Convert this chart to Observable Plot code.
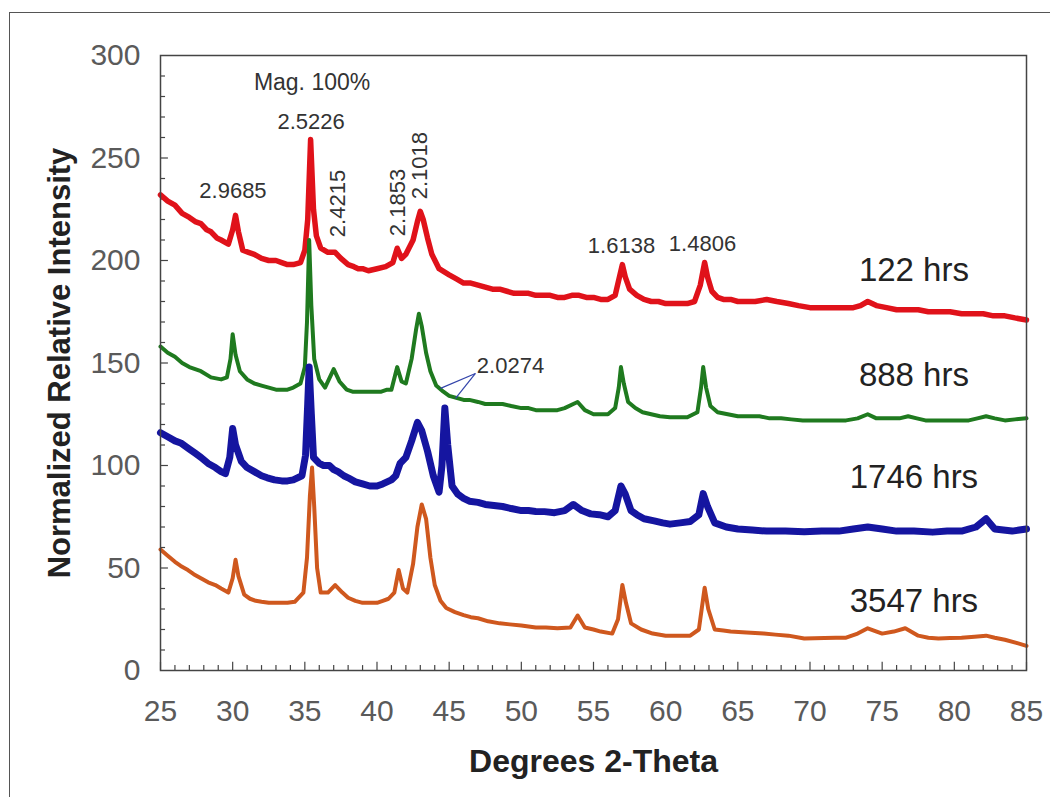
<!DOCTYPE html>
<html><head><meta charset="utf-8">
<script src="https://cdn.jsdelivr.net/npm/d3@7"></script>
<script src="https://cdn.jsdelivr.net/npm/@observablehq/plot@0.6"></script>
<style>
body{margin:0;background:#fff;}
#wrap{position:relative;width:1050px;height:797px;overflow:hidden;background:#fff;}
#border{position:absolute;left:9px;top:12px;width:1200px;height:900px;border-left:1.5px solid #555;border-top:1.5px solid #555;pointer-events:none;}
</style></head><body>
<div id="wrap"><div id="chart"></div><div id="border"></div></div>
<script>
// ---- data ----
const xTickLabels = [25, 30, 35, 40, 45, 50, 55, 60, 65, 70, 75, 80, 85];
const yTickLabels = [0, 50, 100, 150, 200, 250, 300];

const hrs122 = [[25,232],[25.5,229],[26,227],[26.5,223],[27,221],[27.4,219],[27.8,218],[28.2,215],[28.5,214],[28.9,211],[29.2,210],[29.7,208],[30.0,215],[30.2,222],[30.4,214],[30.7,205],[31.1,204],[31.5,203],[32.0,201],[32.5,200],[33.0,200],[33.4,199],[33.8,198],[34.2,198],[34.7,199],[35.0,205],[35.2,220],[35.4,259],[35.6,225],[35.8,212],[36.1,206],[36.6,204],[37.1,204],[37.5,201],[38.0,198],[38.4,197],[38.7,196],[39.0,196],[39.4,195],[40.0,196],[40.6,197],[41.1,199],[41.4,206],[41.7,201],[42.0,203],[42.5,210],[42.8,219],[43.0,224],[43.2,220],[43.5,211],[43.8,203],[44.3,196],[45.0,193],[45.5,191],[46.0,189],[46.5,189],[47.0,188],[47.5,187],[48.0,186],[48.5,186],[49.0,185],[49.5,184],[50.0,184],[50.5,184],[51.0,183],[51.5,183],[52.0,183],[52.5,182],[53.0,182],[53.5,183],[54.0,183],[54.5,182],[55.0,182],[55.5,181],[56.0,181],[56.5,183],[56.8,192],[57.0,198],[57.2,192],[57.5,186],[58.0,183],[58.5,181],[59.0,180],[59.5,180],[60.0,179],[60.5,179],[61.0,179],[61.5,179],[62.0,180],[62.4,188],[62.7,199],[62.9,192],[63.2,185],[63.6,182],[64.0,181],[64.5,181],[65.0,180],[65.5,180],[66.2,180],[67.0,181],[67.7,180],[68.5,179],[69.2,178],[70.0,177],[70.7,177],[71.5,177],[72.2,177],[73.0,177],[73.5,178],[74.0,180],[74.6,178],[75.3,177],[76.0,176],[76.7,176],[77.5,176],[78.2,175],[79.0,175],[79.7,175],[80.5,174],[81.2,174],[82.0,174],[82.7,173],[83.5,173],[84.2,172],[85.0,171]];

const hrs888 = [[25,158],[25.5,155],[26,153],[26.5,150],[27,148],[27.8,146],[28.5,143],[29.2,142],[29.6,143],[29.85,152],[30.0,164],[30.2,154],[30.5,146],[31.0,142],[31.5,140],[32.0,139],[32.5,138],[33.0,137],[33.4,137],[33.8,137],[34.2,138],[34.7,140],[35.0,148],[35.15,170],[35.3,210],[35.45,178],[35.65,152],[36.0,142],[36.4,138],[37.0,147],[37.4,141],[37.9,137],[38.3,136],[38.7,136],[39.1,136],[39.5,136],[39.9,136],[40.3,136],[40.7,137],[41.0,137],[41.4,148],[41.7,141],[42.0,140],[42.4,152],[42.7,166],[42.9,174],[43.1,168],[43.4,155],[43.7,146],[44.1,139],[44.6,136],[45.0,134],[45.5,133],[46.0,132],[46.4,132],[47.0,131],[47.5,130],[48.1,130],[48.7,130],[49.3,129],[50.0,128],[50.5,128],[51.0,127],[51.5,127],[52.0,127],[52.5,127],[53.0,128],[53.6,130],[53.9,131],[54.4,127],[55.0,125],[55.5,125],[56.0,125],[56.5,128],[56.75,138],[56.9,148],[57.1,140],[57.4,131],[57.9,128],[58.4,126],[59.0,125],[59.6,124],[60.3,123.5],[60.9,123.5],[61.5,123.5],[62.2,126],[62.45,138],[62.6,148],[62.8,138],[63.1,129],[63.6,126],[64.3,125],[65.0,124],[65.7,124],[66.5,124],[67.2,123],[68.0,123],[68.7,122.5],[69.5,122],[70.2,122],[71.0,122],[71.7,122],[72.5,122],[73.3,123],[74.0,125],[74.6,123],[75.5,123],[76.2,123],[76.8,124],[77.4,123],[78.0,122],[78.7,122],[79.5,122],[80.2,122],[81.0,122],[81.6,123],[82.2,124],[82.8,123],[83.5,122],[84.2,122.5],[85.0,123]];

const hrs1746 = [[25,116],[25.5,114],[26,112],[26.4,111],[27.0,108],[27.4,106],[27.8,104],[28.3,101],[28.8,99],[29.2,97],[29.5,96],[29.8,104],[30.0,118],[30.2,110],[30.6,102],[31.0,99],[31.5,97],[32.0,95],[32.4,94],[32.9,93],[33.4,92.5],[33.8,92.5],[34.2,93],[34.8,95],[35.05,105],[35.2,130],[35.3,148],[35.45,125],[35.6,104],[36.0,101],[36.3,100],[36.7,100],[37.0,98],[37.3,97],[37.7,95],[38.0,94],[38.5,92],[39.0,91],[39.5,90],[40.0,90],[40.4,91],[40.7,92],[41.0,93],[41.3,95],[41.6,101],[42.0,104],[42.4,112],[42.8,121],[43.1,117],[43.5,107],[43.9,95],[44.3,87],[44.5,100],[44.7,128],[44.9,110],[45.2,90],[45.6,86],[46.0,84],[46.4,82.6],[47.0,82],[47.5,81],[48.1,80.5],[48.7,80],[49.3,79],[50.0,78],[50.5,78],[51.0,77.6],[51.6,77.5],[52.3,77],[53.0,78],[53.6,81],[54.2,78],[54.8,76.4],[55.4,76],[56.0,75],[56.5,78],[56.9,90],[57.2,86],[57.6,78],[58.0,76],[58.5,74],[59.2,73],[59.8,72],[60.3,71.4],[61.0,72],[61.7,72.7],[62.3,76],[62.6,86.3],[62.9,80],[63.4,72],[64.2,70],[65.0,69],[66.0,68.5],[67.0,68],[68.3,68],[69.6,67.7],[70.8,68],[72.0,68],[73.0,69],[74.0,70],[75.0,69],[76.0,68],[77.2,68],[78.5,67.5],[79.5,68],[80.5,68],[81.5,70],[82.2,74],[82.8,69],[83.4,68.5],[84.0,68],[84.5,68.5],[85.0,69]];

const hrs3547 = [[25,59],[25.5,56],[26,53],[26.4,51],[26.9,49],[27.3,47],[27.8,45],[28.3,43],[28.8,41.7],[29.2,40],[29.7,38],[30.0,45],[30.2,54],[30.4,46],[30.8,37],[31.2,35],[31.6,34],[32.0,33.5],[32.5,33],[33.0,33],[33.4,33],[33.8,33],[34.3,33.5],[34.9,38],[35.15,55],[35.35,85],[35.5,99],[35.65,80],[35.85,50],[36.1,38],[36.6,38],[37.1,41.7],[37.6,38],[38.0,35.5],[38.5,34],[39.0,33],[39.5,33],[40.0,33],[40.4,34],[40.8,35],[41.2,38],[41.5,49],[41.8,40],[42.1,38],[42.5,52],[42.8,70],[43.1,81],[43.4,74],[43.7,55],[44.0,41.7],[44.4,34],[44.8,30.5],[45.4,28.5],[46.0,27],[46.5,26],[47.0,25.5],[47.7,24],[48.5,23],[49.2,22.5],[50.0,22],[50.5,21.5],[51.0,21],[51.7,21],[52.5,20.6],[53.4,21],[53.9,26.8],[54.4,21],[55.0,20],[55.5,19],[56.3,18],[56.7,25],[57.0,41.7],[57.25,33],[57.6,23],[58.3,20],[59.1,18],[60.0,17],[60.8,17],[61.7,17],[62.3,20],[62.7,40.4],[62.95,30],[63.4,20],[64.0,19.5],[64.5,19],[65.6,18.5],[66.8,18],[67.6,17.5],[68.5,17],[69.6,15.6],[70.3,15.7],[71.0,15.8],[71.8,16],[72.5,16],[73.3,18],[74.0,20.6],[75.0,18],[75.8,19],[76.6,20.6],[77.5,17],[78.2,16],[78.9,15.6],[79.7,15.8],[80.5,16],[81.4,16.5],[82.2,17],[82.8,16],[83.5,15],[84.3,13.5],[85.0,12]];

const seriesLabels = [
  {text: "122 hrs", x: 77.2, y: 195},
  {text: "888 hrs", x: 77.2, y: 144},
  {text: "1746 hrs", x: 77.2, y: 94.3},
  {text: "3547 hrs", x: 77.2, y: 33.5}
];
const peakLabels = [
  {text: "2.5226", x: 35.43, y: 267.8},
  {text: "2.9685", x: 30.02, y: 233.9},
  {text: "1.6138", x: 56.94, y: 207.3},
  {text: "1.4806", x: 62.55, y: 208.3},
  {text: "2.0274", x: 49.25, y: 148.8}
];
const peakLabelsRotated = [
  {text: "2.4215", x: 37.3, y: 227.8},
  {text: "2.1853", x: 41.42, y: 228.3},
  {text: "2.1018", x: 42.98, y: 246.3}
];
const magLabel = [{text: "Mag. 100%", x: 35.5, y: 286.8}];
const arrowLinks = [
  {x1: 46.82, y1: 144.9, x2: 44.4, y2: 137.6},
  {x1: 46.82, y1: 144.9, x2: 45.44, y2: 132.7}
];

const xMajor = xTickLabels;
const xMinor = d3.range(26, 85, 1).filter(v => v % 5 !== 0);
const yMajor = yTickLabels.filter(v => v > 0 && v < 300);
const yMinor = d3.range(10, 300, 10).filter(v => v % 50 !== 0);

const FONT = "'Liberation Sans', Arial, Helvetica, sans-serif";

const chart = Plot.plot({
  width: 1050,
  height: 797,
  marginLeft: 160,
  marginRight: 24,
  marginTop: 55,
  marginBottom: 127,
  x: {domain: [25, 85]},
  y: {domain: [0, 300]},
  style: {fontFamily: FONT, background: "transparent", overflow: "visible"},
  marks: [
    Plot.axisX({ticks: xTickLabels, tickSize: 0, tickPadding: 29, fontSize: 30, color: "#5a5a5a", label: null}),
    Plot.axisY({ticks: yTickLabels, tickSize: 0, tickPadding: 20, fontSize: 30, color: "#5a5a5a", label: null}),
    Plot.ruleX(xMinor, {x: d => d, y1: 0, y2: 2.4, stroke: "#444", strokeWidth: 1.2}),
    Plot.ruleX(xMajor, {x: d => d, y1: 0, y2: 4, stroke: "#444", strokeWidth: 1.2}),
    Plot.ruleY(yMinor, {y: d => d, x1: 25, x2: 25.35, stroke: "#444", strokeWidth: 1.2}),
    Plot.ruleY(yMajor, {y: d => d, x1: 25, x2: 25.55, stroke: "#444", strokeWidth: 1.2}),
    Plot.line(hrs122, {stroke: "#e0121a", strokeWidth: 5.5, strokeLinejoin: "round"}),
    Plot.line(hrs888, {stroke: "#1f7a1f", strokeWidth: 4, strokeLinejoin: "round"}),
    Plot.line(hrs1746, {stroke: "#1515a0", strokeWidth: 7, strokeLinejoin: "round"}),
    Plot.line(hrs3547, {stroke: "#cf581e", strokeWidth: 4, strokeLinejoin: "round"}),
    Plot.link(arrowLinks, {x1: "x1", y1: "y1", x2: "x2", y2: "y2", stroke: "#3344aa", strokeWidth: 1.2}),
    Plot.frame({stroke: "#444", strokeWidth: 1.5}),
    Plot.text(magLabel, {x: "x", y: "y", text: "text", fontSize: 23, fill: "#333"}),
    Plot.text(peakLabels, {x: "x", y: "y", text: "text", fontSize: 22, fill: "#333"}),
    Plot.text(peakLabelsRotated, {x: "x", y: "y", text: "text", rotate: -90, fontSize: 22, fill: "#333"}),
    Plot.text(seriesLabels, {x: "x", y: "y", text: "text", fontSize: 33, fill: "#222"}),
    Plot.text(["Degrees 2-Theta"], {frameAnchor: "bottom", dy: 91, text: d => d, textAnchor: "middle", lineAnchor: "middle", fontSize: 32, fontWeight: "bold", fill: "#222"}),
    Plot.text(["Normalized Relative Intensity"], {frameAnchor: "left", dx: -100, rotate: -90, text: d => d, textAnchor: "middle", lineAnchor: "middle", fontSize: 31, fontWeight: "bold", fill: "#222"})
  ]
});
document.getElementById("chart").appendChild(chart);
</script>
</body></html>
